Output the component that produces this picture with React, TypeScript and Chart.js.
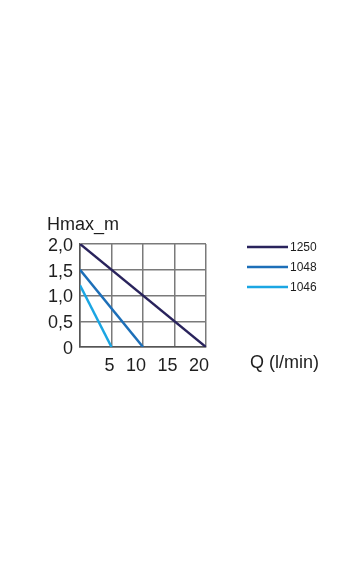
import React, { useEffect, useRef } from "react";
import { Chart, registerables } from "chart.js";

Chart.register(...registerables);

// Pump curves: delivery head (m) against flow rate (l/min)
const models = ["1250", "1048", "1046"];
const colors = ["#29235c", "#1d6fb8", "#1ba6e3"];
const flow1250 = [0, 20];
const head1250 = [2.0, 0];
const flow1048 = [0, 10];
const head1048 = [1.5, 0];
const flow1046 = [0, 5];
const head1046 = [1.2, 0];

const yTitle = "Hmax_m";
const xTitle = "Q (l/min)";

const FONT = "'Liberation Sans', Arial, Helvetica, sans-serif";
const TEXT = "#1e1e1e";

const toPoints = (xs: number[], ys: number[]) => xs.map((x, i) => ({ x, y: ys[i] }));

const decorations = {
  id: "decorations",
  afterDraw(chart: any) {
    const { ctx, chartArea } = chart;
    ctx.save();
    ctx.fillStyle = TEXT;
    ctx.font = `18px ${FONT}`;
    ctx.textBaseline = "middle";
    ctx.textAlign = "left";
    ctx.fillText(yTitle, chartArea.left - 33, chartArea.top - 19);
    ctx.fillText(xTitle, chartArea.right + 44, chartArea.bottom + 16);

    // legend: short line followed by the model name
    ctx.font = `12px ${FONT}`;
    chart.data.datasets.forEach((ds: any, i: number) => {
      const y = chartArea.top + 3 + i * 20;
      const x0 = chartArea.right + 41;
      ctx.strokeStyle = ds.borderColor;
      ctx.lineWidth = 2.5;
      ctx.beginPath();
      ctx.moveTo(x0, y);
      ctx.lineTo(x0 + 41, y);
      ctx.stroke();
      ctx.fillStyle = TEXT;
      ctx.fillText(ds.label, x0 + 43, y + 1);
    });
    ctx.restore();
  },
};

export default function App() {
  const ref = useRef<HTMLCanvasElement>(null);

  useEffect(() => {
    if (!ref.current) return;
    const series = [
      toPoints(flow1250, head1250),
      toPoints(flow1048, head1048),
      toPoints(flow1046, head1046),
    ];
    const chart = new Chart(ref.current, {
      type: "line",
      data: {
        datasets: series.map((data, i) => ({
          label: models[i],
          data,
          borderColor: colors[i],
          backgroundColor: colors[i],
          borderWidth: 2.5,
          pointRadius: 0,
          fill: false,
          tension: 0,
        })),
      },
      options: {
        animation: false,
        responsive: false,
        maintainAspectRatio: false,
        layout: { padding: { left: 0, top: 244, right: 154, bottom: 0 } },
        plugins: {
          legend: { display: false },
          tooltip: { enabled: false },
        },
        scales: {
          x: {
            type: "linear",
            min: 0,
            max: 20,
            afterFit: (scale: any) => {
              scale.height = 585 - 347;
            },
            ticks: {
              stepSize: 5,
              align: "end",
              labelOffset: 3,
              padding: 8,
              color: TEXT,
              font: { family: FONT, size: 18 },
              callback: (v: any) => (v === 0 ? "" : String(v)),
            },
            grid: { color: "#7a7a7a", lineWidth: 1.5, drawTicks: false },
            border: { color: "#555555", width: 1.5 },
          },
          y: {
            type: "linear",
            min: 0,
            max: 2,
            afterFit: (scale: any) => {
              scale.width = 80;
            },
            ticks: {
              stepSize: 0.5,
              padding: 7,
              labelOffset: 2,
              color: TEXT,
              font: { family: FONT, size: 18 },
              callback: (v: any) =>
                Number(v) === 0 ? "0" : Number(v).toFixed(1).replace(".", ","),
            },
            grid: { color: "#7a7a7a", lineWidth: 1.5, drawTicks: false },
            border: { color: "#555555", width: 1.5 },
          },
        },
      },
      plugins: [decorations],
    });
    return () => chart.destroy();
  }, []);

  return (
    <div
      style={{
        position: "fixed",
        left: 0,
        top: 0,
        width: 360,
        height: 585,
        background: "#ffffff",
      }}
    >
      <canvas ref={ref} width={360} height={585} style={{ display: "block" }} />
    </div>
  );
}
